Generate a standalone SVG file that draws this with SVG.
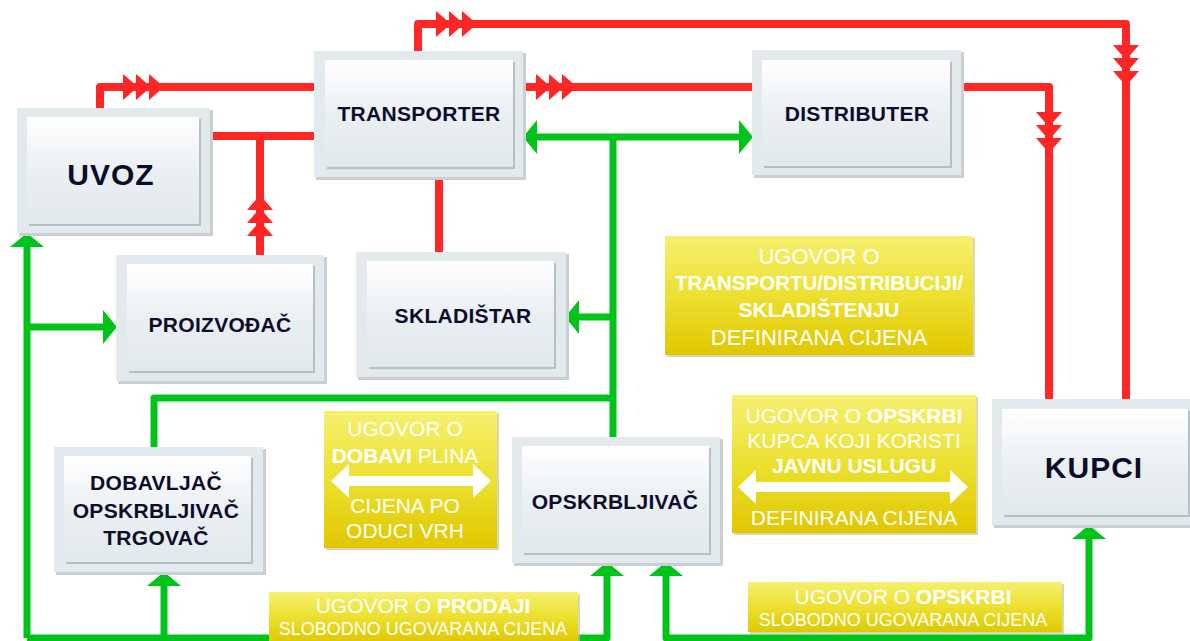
<svg xmlns="http://www.w3.org/2000/svg" width="1190" height="641" viewBox="0 0 1190 641">
<style>
.red{fill:none;stroke:#ff2626;stroke-width:8;stroke-linejoin:round}
.grn{fill:none;stroke:#00c41a;stroke-width:7;stroke-linejoin:round}
.rh{fill:#ff2626}
.gh{fill:#00c41a}
.osh{fill:#c9cfd3}
.out{fill:#e3eaee}
.ish{fill:#b7bec4}
.inn{fill:url(#ig)}
.nt{font-family:"Liberation Sans",Arial,sans-serif;font-weight:bold;font-size:21px;fill:#0d0c2b;text-anchor:middle;letter-spacing:0.3px}
.big{font-size:30px;letter-spacing:1px}
.ysh{fill:#c8c49a;opacity:0.7}
.ybox{fill:url(#yg)}
.yt{font-family:"Liberation Sans",Arial,sans-serif;font-size:21px;fill:#ffffff;text-anchor:middle}
.b{font-weight:bold}
.sm{font-size:18px}
.wa{fill:#ffffff}
</style>
<defs>
<linearGradient id="ig" x1="0" y1="0" x2="0" y2="1">
<stop offset="0" stop-color="#ffffff"/>
<stop offset="0.55" stop-color="#e9eef1"/>
<stop offset="1" stop-color="#e2e9ed"/>
</linearGradient>
<linearGradient id="yg" x1="0" y1="0" x2="0" y2="1">
<stop offset="0" stop-color="#f6f070"/>
<stop offset="0.5" stop-color="#ece030"/>
<stop offset="1" stop-color="#e0c700"/>
</linearGradient>
<path id="tri3" d="M0,-13 L15,0 L0,13 Z M13,-13 L28,0 L13,13 Z M26,-13 L41,0 L26,13 Z"/>
<path id="gtip" d="M0,0 L14,-17 L14,17 Z"/>
</defs>

<g id="connectors">
<g id="red-lines">
<path class="red" d="M100,110 V87 H316"/>
<path class="red" d="M208,136 H316"/>
<path class="red" d="M260,136 V257"/>
<path class="red" d="M418,53 V24 H1126 V401"/>
<path class="red" d="M522,87 H754"/>
<path class="red" d="M960,87 H1049 V401"/>
<path class="red" d="M439,175 V254"/>
<use href="#tri3" class="rh" transform="translate(123,87)"/>
<use href="#tri3" class="rh" transform="translate(436,24)"/>
<use href="#tri3" class="rh" transform="translate(536,87)"/>
<use href="#tri3" class="rh" transform="translate(260,236) rotate(-90)"/>
<use href="#tri3" class="rh" transform="translate(1126,45) rotate(90)"/>
<use href="#tri3" class="rh" transform="translate(1049,112) rotate(90)"/>
</g>
<g id="green-lines">
<path class="grn" d="M536,137 H740"/>
<use href="#gtip" class="gh" transform="translate(523,137)"/>
<use href="#gtip" class="gh" transform="translate(753,137) rotate(180)"/>
<path class="grn" d="M613,137 V439"/>
<path class="grn" d="M613,317 H578"/>
<use href="#gtip" class="gh" transform="translate(565,317)"/>
<path class="grn" d="M613,398 H154 V449"/>
<path class="grn" d="M27,638 V246"/>
<use href="#gtip" class="gh" transform="translate(27,233) rotate(90)"/>
<path class="grn" d="M27,327 H104"/>
<use href="#gtip" class="gh" transform="translate(117,327) rotate(180)"/>
<path class="grn" d="M27,638 H607 V574"/>
<use href="#gtip" class="gh" transform="translate(607,562) rotate(90)"/>
<path class="grn" d="M164,638 V584"/>
<use href="#gtip" class="gh" transform="translate(164,572) rotate(90)"/>
<path class="grn" d="M666,574 V638 H1089 V537"/>
<use href="#gtip" class="gh" transform="translate(666,562) rotate(90)"/>
<use href="#gtip" class="gh" transform="translate(1089,525) rotate(90)"/>
</g>
</g>

<g id="node-uvoz">
<rect class="osh" x="19" y="110" width="194" height="126"/>
<rect class="out" x="17" y="108" width="193" height="125"/>
<rect class="ish" x="29" y="119" width="172" height="107"/>
<rect class="inn" x="27" y="117" width="172" height="107"/>
<text class="nt big" x="111" y="185">UVOZ</text>
</g>
<g id="node-transporter">
<rect class="osh" x="316" y="53" width="210" height="127"/>
<rect class="out" x="314" y="51" width="209" height="126"/>
<rect class="ish" x="327" y="62" width="188" height="107"/>
<rect class="inn" x="325" y="60" width="188" height="107"/>
<text class="nt" x="419" y="121">TRANSPORTER</text>
</g>
<g id="node-distributer">
<rect class="osh" x="754" y="52" width="210" height="126"/>
<rect class="out" x="752" y="50" width="209" height="125"/>
<rect class="ish" x="764" y="62" width="188" height="106"/>
<rect class="inn" x="762" y="60" width="188" height="106"/>
<text class="nt" x="857" y="121">DISTRIBUTER</text>
</g>
<g id="node-proizvodjac">
<rect class="osh" x="118" y="257" width="209" height="127"/>
<rect class="out" x="116" y="255" width="208" height="126"/>
<rect class="ish" x="129" y="266" width="186" height="107"/>
<rect class="inn" x="127" y="264" width="186" height="107"/>
<text class="nt" x="220" y="332">PROIZVOĐAČ</text>
</g>
<g id="node-skladistar">
<rect class="osh" x="358" y="254" width="211" height="126"/>
<rect class="out" x="356" y="252" width="210" height="125"/>
<rect class="ish" x="369" y="263" width="187" height="106"/>
<rect class="inn" x="367" y="261" width="187" height="106"/>
<text class="nt" x="463" y="323">SKLADIŠTAR</text>
</g>
<g id="node-dobavljac">
<rect class="osh" x="56" y="449" width="210" height="126"/>
<rect class="out" x="54" y="447" width="209" height="125"/>
<rect class="ish" x="66" y="458" width="187" height="106"/>
<rect class="inn" x="64" y="456" width="187" height="106"/>
<text class="nt" x="156" y="490">DOBAVLJAČ</text>
<text class="nt" x="156" y="518">OPSKRBLJIVAČ</text>
<text class="nt" x="156" y="545">TRGOVAČ</text>
</g>
<g id="node-opskrbljivac">
<rect class="osh" x="514" y="439" width="209" height="127"/>
<rect class="out" x="512" y="437" width="208" height="126"/>
<rect class="ish" x="524" y="448" width="187" height="107"/>
<rect class="inn" x="522" y="446" width="187" height="107"/>
<text class="nt" x="615" y="509">OPSKRBLJIVAČ</text>
</g>
<g id="node-kupci">
<rect class="osh" x="994" y="401" width="200" height="127"/>
<rect class="out" x="992" y="399" width="200" height="126"/>
<rect class="ish" x="1004" y="411" width="186" height="106"/>
<rect class="inn" x="1002" y="409" width="186" height="106"/>
<text class="nt big" x="1094" y="478">KUPCI</text>
</g>

<g id="label-transport">
<rect class="ysh" x="667" y="238" width="308" height="119"/>
<rect class="ybox" x="665" y="236" width="308" height="119"/>
<text class="yt" x="819" y="264" style="font-size:22px">UGOVOR O</text>
<text class="yt b" x="819" y="290" style="font-size:20.5px">TRANSPORTU/DISTRIBUCIJI/</text>
<text class="yt b" x="819" y="317">SKLADIŠTENJU</text>
<text class="yt" x="819" y="345" style="font-size:22px">DEFINIRANA CIJENA</text>
</g>
<g id="label-dobava">
<rect class="ysh" x="326" y="413" width="173" height="137"/>
<rect class="ybox" x="324" y="411" width="173" height="137"/>
<text class="yt" x="405" y="436">UGOVOR O</text>
<text class="yt" x="405" y="463"><tspan class="b">DOBAVI</tspan> PLINA</text>
<path class="wa" d="M331,481 L349,464 L349,476 L473,476 L473,464 L491,481 L473,498 L473,486 L349,486 L349,498 Z"/>
<text class="yt" x="405" y="513">CIJENA PO</text>
<text class="yt" x="405" y="538">ODUCI VRH</text>
</g>
<g id="label-javna">
<rect class="ysh" x="734" y="397" width="244" height="138"/>
<rect class="ybox" x="732" y="395" width="244" height="138"/>
<text class="yt" x="854" y="423">UGOVOR O <tspan class="b">OPSKRBI</tspan></text>
<text class="yt" x="854" y="448">KUPCA KOJI KORISTI</text>
<text class="yt b" x="854" y="473">JAVNU USLUGU</text>
<path class="wa" d="M738,487 L756,470 L756,482 L950,482 L950,470 L968,487 L950,504 L950,492 L756,492 L756,504 Z"/>
<text class="yt" x="854" y="525">DEFINIRANA CIJENA</text>
</g>
<g id="label-opskrba-slobodno">
<rect class="ysh" x="750" y="584" width="314" height="50"/>
<rect class="ybox" x="748" y="582" width="314" height="50"/>
<text class="yt" x="903" y="604">UGOVOR O <tspan class="b">OPSKRBI</tspan></text>
<text class="yt sm" x="903" y="626">SLOBODNO UGOVARANA CIJENA</text>
</g>
<g id="label-prodaja">
<rect class="ysh" x="271" y="594" width="309" height="50"/>
<rect class="ybox" x="269" y="592" width="309" height="50"/>
<text class="yt" x="423" y="613">UGOVOR O <tspan class="b">PRODAJI</tspan></text>
<text class="yt sm" x="423" y="635">SLOBODNO UGOVARANA CIJENA</text>
</g>
</svg>
